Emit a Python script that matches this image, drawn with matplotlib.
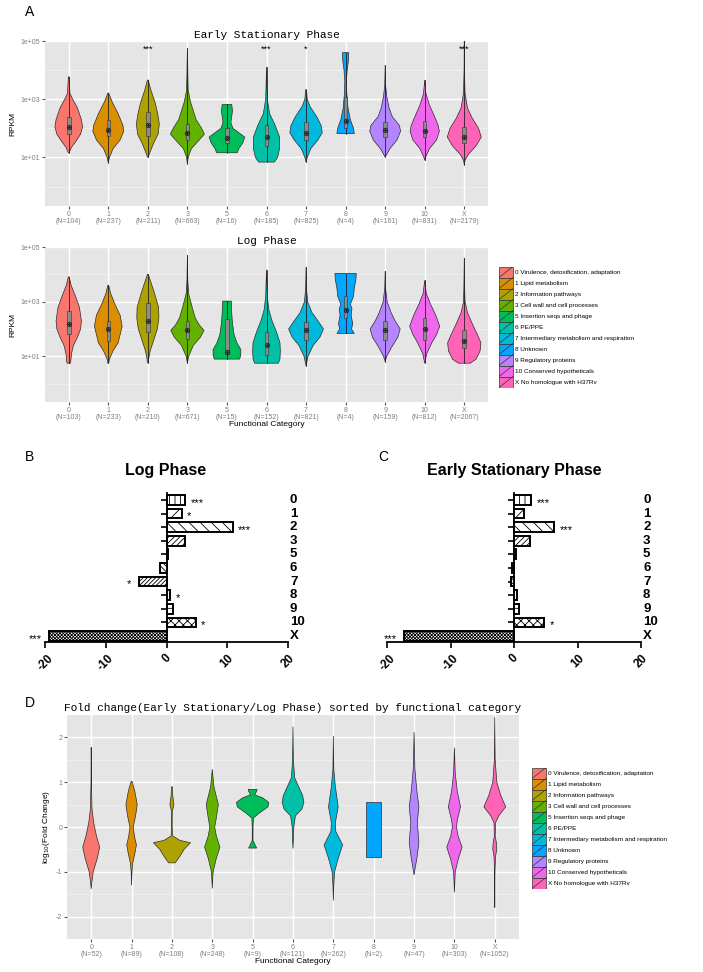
import numpy as np
import matplotlib.pyplot as plt
from matplotlib.patches import Rectangle
from matplotlib.ticker import FixedLocator, NullFormatter
import matplotlib.transforms as mtrans

plt.rcParams['font.family'] = ['Liberation Sans', 'DejaVu Sans']
plt.rcParams['axes.unicode_minus'] = False
plt.rcParams['hatch.linewidth'] = 0.6

W, H = 703, 972

# ---------------- data ----------------
categories = ['0', '1', '2', '3', '5', '6', '7', '8', '9', '10', 'X']
legend_names = ['0 Virulence, detoxification, adaptation', '1 Lipid metabolism',
                '2 Information pathways', '3 Cell wall and cell processes',
                '5 Insertion seqs and phage', '6 PE/PPE',
                '7 Intermediary metabolism and respiration', '8 Unknown',
                '9 Regulatory proteins', '10 Conserved hypotheticals',
                'X No homologue with H37Rv']
colors = ['#F8766D', '#DB8E00', '#AEA200', '#64B200', '#00BD5C', '#00C1A7',
          '#00BADE', '#00A6FF', '#B385FF', '#EF67EB', '#FF63B6']

n_es = [104, 237, 211, 663, 16, 185, 825, 4, 161, 831, 2179]
n_log = [103, 233, 210, 671, 15, 152, 821, 4, 159, 812, 2067]
n_fc = [52, 89, 108, 248, 9, 121, 262, 2, 47, 303, 1052]

es_stars = ['', '', '***', '', '', '***', '*', '', '', '', '***']

# violin outlines: (log10 value, half width)
es_shapes = [
    [(3.77, 0.01), (3.2, 0.03), (3.0, 0.1), (2.7, 0.22), (2.3, 0.32), (2.05, 0.35), (1.8, 0.3), (1.55, 0.18), (1.35, 0.07), (1.16, 0.01)],
    [(3.21, 0.01), (2.9, 0.1), (2.5, 0.25), (2.1, 0.37), (1.9, 0.39), (1.6, 0.3), (1.3, 0.12), (1.0, 0.03), (0.82, 0.0)],
    [(3.66, 0.01), (3.3, 0.08), (2.9, 0.18), (2.5, 0.25), (2.15, 0.29), (1.8, 0.26), (1.5, 0.15), (1.2, 0.06), (1.01, 0.01)],
    [(4.75, 0.0), (4.0, 0.01), (3.3, 0.02), (2.9, 0.08), (2.6, 0.15), (2.3, 0.22), (2.0, 0.36), (1.8, 0.43), (1.6, 0.3), (1.3, 0.1), (1.0, 0.02), (0.78, 0.0)],
    [(2.82, 0.12), (2.6, 0.14), (2.4, 0.12), (2.2, 0.1), (2.0, 0.15), (1.85, 0.3), (1.7, 0.45), (1.5, 0.4), (1.3, 0.3), (1.16, 0.26)],
    [(4.11, 0.0), (3.5, 0.01), (3.0, 0.02), (2.5, 0.08), (2.1, 0.22), (1.7, 0.33), (1.3, 0.33), (1.0, 0.28), (0.84, 0.2)],
    [(3.33, 0.01), (3.0, 0.03), (2.75, 0.1), (2.4, 0.27), (2.1, 0.38), (1.85, 0.41), (1.6, 0.3), (1.3, 0.12), (1.0, 0.03), (0.84, 0.0)],
    [(4.6, 0.08), (4.3, 0.07), (4.0, 0.04), (3.6, 0.02), (3.2, 0.03), (2.7, 0.06), (2.3, 0.12), (2.0, 0.2), (1.82, 0.22)],
    [(4.17, 0.0), (3.5, 0.01), (3.1, 0.04), (2.7, 0.1), (2.4, 0.18), (2.1, 0.36), (1.9, 0.39), (1.6, 0.3), (1.3, 0.12), (1.01, 0.0)],
    [(3.66, 0.0), (3.2, 0.03), (2.8, 0.12), (2.4, 0.25), (2.1, 0.34), (1.9, 0.37), (1.6, 0.3), (1.3, 0.12), (1.0, 0.02), (0.9, 0.0)],
    [(5.0, 0.0), (4.0, 0.005), (3.2, 0.02), (2.7, 0.08), (2.35, 0.2), (2.0, 0.36), (1.7, 0.43), (1.4, 0.3), (1.1, 0.1), (0.9, 0.02), (0.75, 0.0)],
]
es_q1 = [1.8, 1.75, 1.75, 1.6, 1.5, 1.4, 1.6, 2.0, 1.7, 1.7, 1.5]
es_med = [2.05, 1.95, 2.1, 1.85, 1.65, 1.7, 1.85, 2.25, 1.95, 1.9, 1.7]
es_q3 = [2.4, 2.3, 2.55, 2.15, 2.0, 2.1, 2.2, 3.08, 2.2, 2.25, 2.05]

log_shapes = [
    [(3.91, 0.01), (3.6, 0.06), (3.2, 0.17), (2.8, 0.27), (2.3, 0.32), (2.0, 0.3), (1.7, 0.22), (1.4, 0.12), (1.1, 0.07), (0.8, 0.05), (0.75, 0.04)],
    [(3.6, 0.01), (3.3, 0.06), (2.9, 0.17), (2.5, 0.3), (2.1, 0.35), (1.8, 0.3), (1.5, 0.25), (1.2, 0.12), (0.9, 0.03), (0.75, 0.01)],
    [(4.0, 0.01), (3.7, 0.08), (3.3, 0.17), (2.8, 0.27), (2.4, 0.28), (2.0, 0.24), (1.6, 0.15), (1.2, 0.06), (0.9, 0.02), (0.77, 0.01)],
    [(4.7, 0.0), (3.8, 0.01), (3.3, 0.03), (2.8, 0.12), (2.4, 0.2), (2.15, 0.3), (1.95, 0.42), (1.7, 0.33), (1.4, 0.15), (1.0, 0.03), (0.75, 0.0)],
    [(3.02, 0.11), (2.6, 0.12), (2.2, 0.14), (1.8, 0.18), (1.5, 0.25), (1.25, 0.35), (1.05, 0.35), (0.9, 0.32)],
    [(4.17, 0.0), (3.7, 0.01), (3.2, 0.02), (2.7, 0.06), (2.3, 0.14), (1.9, 0.25), (1.5, 0.34), (1.2, 0.35), (0.9, 0.34), (0.75, 0.3)],
    [(4.27, 0.0), (3.5, 0.01), (3.0, 0.04), (2.6, 0.15), (2.3, 0.3), (2.0, 0.44), (1.7, 0.35), (1.4, 0.18), (1.0, 0.05), (0.65, 0.0)],
    [(4.03, 0.27), (3.8, 0.26), (3.5, 0.22), (3.2, 0.2), (2.9, 0.12), (2.75, 0.16), (2.5, 0.14), (2.2, 0.18), (2.0, 0.15), (1.84, 0.22)],
    [(4.11, 0.0), (3.5, 0.01), (3.0, 0.05), (2.6, 0.15), (2.3, 0.25), (2.0, 0.38), (1.7, 0.32), (1.3, 0.15), (1.0, 0.04), (0.81, 0.0)],
    [(3.78, 0.0), (3.3, 0.04), (2.9, 0.15), (2.5, 0.28), (2.1, 0.38), (1.8, 0.3), (1.5, 0.18), (1.1, 0.05), (0.75, 0.0)],
    [(4.6, 0.0), (3.5, 0.01), (3.0, 0.02), (2.6, 0.08), (2.2, 0.2), (1.8, 0.33), (1.5, 0.42), (1.2, 0.4), (0.9, 0.3), (0.75, 0.15)],
]
log_q1 = [1.8, 1.55, 1.9, 1.65, 1.1, 1.05, 1.6, 2.4, 1.6, 1.6, 1.3]
log_med = [2.2, 2.0, 2.3, 1.95, 1.15, 1.4, 1.95, 2.7, 1.95, 2.0, 1.55]
log_q3 = [2.65, 2.3, 2.95, 2.3, 2.35, 1.9, 2.25, 3.2, 2.3, 2.4, 1.95]

fc_shapes = [
    [(1.78, 0.0), (1.0, 0.005), (0.4, 0.02), (0.1, 0.06), (-0.2, 0.13), (-0.45, 0.21), (-0.7, 0.15), (-1.0, 0.05), (-1.2, 0.02), (-1.38, 0.0)],
    [(1.02, 0.01), (0.8, 0.08), (0.5, 0.14), (0.25, 0.1), (0.0, 0.04), (-0.2, 0.07), (-0.4, 0.12), (-0.6, 0.08), (-0.8, 0.03), (-1.0, 0.01), (-1.3, 0.0)],
    [(0.9, 0.01), (0.7, 0.02), (0.5, 0.05), (0.35, 0.01), (0.0, 0.005), (-0.2, 0.02), (-0.3, 0.2), (-0.35, 0.46), (-0.5, 0.3), (-0.65, 0.2), (-0.75, 0.12), (-0.8, 0.08)],
    [(1.29, 0.0), (0.9, 0.04), (0.5, 0.15), (0.2, 0.1), (0.0, 0.06), (-0.2, 0.1), (-0.45, 0.19), (-0.7, 0.1), (-1.0, 0.02), (-1.37, 0.0)],
    [(0.84, 0.11), (0.8, 0.1), (0.72, 0.05), (0.65, 0.25), (0.55, 0.4), (0.45, 0.38), (0.3, 0.15), (0.2, 0.02), (0.0, 0.01), (-0.3, 0.01), (-0.4, 0.06), (-0.47, 0.1)],
    [(2.24, 0.0), (1.5, 0.01), (1.1, 0.04), (0.9, 0.14), (0.7, 0.24), (0.55, 0.27), (0.4, 0.22), (0.25, 0.06), (0.0, 0.02), (-0.3, 0.01), (-0.48, 0.0)],
    [(2.03, 0.0), (1.3, 0.01), (0.9, 0.05), (0.45, 0.12), (0.1, 0.05), (-0.1, 0.06), (-0.4, 0.23), (-0.7, 0.12), (-1.0, 0.03), (-1.3, 0.01), (-1.64, 0.0)],
    [(0.55, 0.18), (-0.66, 0.18)],
    [(2.12, 0.0), (1.3, 0.02), (0.8, 0.07), (0.45, 0.12), (0.1, 0.08), (-0.35, 0.12), (-0.7, 0.07), (-0.9, 0.03), (-1.07, 0.0)],
    [(1.77, 0.0), (1.2, 0.02), (0.8, 0.07), (0.45, 0.15), (0.15, 0.07), (0.0, 0.05), (-0.2, 0.09), (-0.45, 0.19), (-0.7, 0.1), (-1.0, 0.02), (-1.46, 0.0)],
    [(2.45, 0.0), (1.5, 0.01), (1.0, 0.05), (0.7, 0.15), (0.45, 0.27), (0.25, 0.1), (0.1, 0.02), (-0.2, 0.01), (-0.35, 0.04), (-0.5, 0.05), (-0.65, 0.02), (-1.0, 0.005), (-1.8, 0.0)],
]

bar_log = [3.1, 2.5, 10.9, 3.0, 0.3, -1.1, -4.6, 0.6, 1.1, 4.8, -19.4]
bar_es = [2.7, 1.5, 6.3, 2.5, 0.25, -0.35, -0.45, 0.4, 0.8, 4.7, -17.4]
bar_log_stars = ['***', '*', '***', '', '', '', '*', '*', '', '*', '***']
bar_es_stars = ['***', '', '***', '', '', '', '', '', '', '*', '***']
hatches = ['|||', '///', '\\\\\\', '//////', '...', '\\\\\\\\\\\\', '////////',
           '|||', '---', 'xxxx', 'xxxxxxxxxx']


def box(l, t, r, b):
    return [l / W, 1 - b / H, (r - l) / W, (b - t) / H]


fig = plt.figure(figsize=(W / 100, H / 100), dpi=100)
pos = np.arange(1, 12)
MONO = ['Liberation Mono', 'DejaVu Sans Mono']


def gg_axes(ax):
    ax.set_facecolor('#E5E5E5')
    for s in ax.spines.values():
        s.set_visible(False)
    ax.grid(True, which='major', color='white', lw=1.0)
    ax.grid(True, which='minor', axis='y', color='#F2F2F2', lw=0.5)
    ax.set_axisbelow(True)
    ax.tick_params(which='major', length=2, color='#555555', labelsize=5,
                   labelcolor='#7F7F7F', pad=1.5)
    ax.tick_params(which='minor', length=0)
    ax.set_xlim(0.4, 11.6)


def violin(ax, x, shape, color, log):
    shape = sorted(shape)
    y = np.array([p[0] for p in shape])
    w = np.array([p[1] for p in shape])
    if log:
        y = 10 ** y
    xs = np.concatenate([x - w, (x + w)[::-1]])
    ys = np.concatenate([y, y[::-1]])
    ax.fill(xs, ys, facecolor=color, edgecolor='#2b2b2b', lw=0.5, zorder=3)
    return y.min(), y.max()


def rpkm_panel(ax, shapes, q1, med, q3, ns, title):
    gg_axes(ax)
    ax.set_yscale('log')
    ax.set_ylim(10 ** -0.67, 10 ** 5)
    ax.yaxis.set_major_locator(FixedLocator([1e1, 1e3, 1e5]))
    ax.yaxis.set_minor_locator(FixedLocator([1e0, 1e2, 1e4]))
    ax.yaxis.set_minor_formatter(NullFormatter())
    ax.set_yticklabels(['1e+01', '1e+03', '1e+05'])
    for i in range(11):
        lo, hi = violin(ax, pos[i], shapes[i], colors[i], True)
        ax.plot([pos[i], pos[i]], [lo, hi], color='#222222', lw=0.6, zorder=4)
        ax.add_patch(Rectangle((pos[i] - 0.045, 10 ** q1[i]), 0.09,
                               10 ** q3[i] - 10 ** q1[i], facecolor='#8C8C8C',
                               edgecolor='#333333', lw=0.4, zorder=5))
        ax.plot(pos[i], 10 ** med[i], marker='o', ms=3.2, mfc='none',
                mec='#222222', mew=0.6, zorder=6)
        ax.plot(pos[i], 10 ** med[i], marker='.', ms=2, color='#222222', zorder=6)
    ax.set_xticks(pos)
    ax.set_xticklabels([f'{c}\n(N={n})' for c, n in zip(categories, ns)],
                       linespacing=0.95)
    ax.set_ylabel('RPKM', fontsize=6, labelpad=3)
    ax.set_title(title, family=MONO, fontsize=8, pad=2)


def legend(l, t):
    lax = fig.add_axes(box(l, t, l + 200, t + 121))
    lax.set_xlim(0, 200)
    lax.set_ylim(121, 0)
    lax.axis('off')
    for i, name in enumerate(legend_names):
        lax.add_patch(Rectangle((0, 11 * i), 14, 11, facecolor=colors[i],
                                edgecolor='#333333', lw=0.5))
        lax.plot([0, 14], [11 * i + 11, 11 * i], color='#333333', lw=0.5)
        lax.text(16, 11 * i + 5.8, name, fontsize=4.6, va='center', ha='left')


# ---- panel A ----
axA1 = fig.add_axes(box(45, 41, 488, 206))
rpkm_panel(axA1, es_shapes, es_q1, es_med, es_q3, n_es, 'Early Stationary Phase')
for i, s in enumerate(es_stars):
    if s:
        axA1.text(pos[i], 10 ** 4.72, s, ha='center', va='center', fontsize=6.5)

axA2 = fig.add_axes(box(45, 247, 488, 402))
rpkm_panel(axA2, log_shapes, log_q1, log_med, log_q3, n_log, 'Log Phase')
axA2.set_xlabel('Functional Category', fontsize=6, labelpad=0)
legend(499, 266.5)

fig.text(25 / W, 1 - 12 / H, 'A', fontsize=10, va='center')
fig.text(25 / W, 1 - 457 / H, 'B', fontsize=10, va='center')
fig.text(378 / W, 1 - 457 / H, 'C', fontsize=10, va='center')
fig.text(25 / W, 1 - 703 / H, 'D', fontsize=10, va='center')


# ---- panels B, C ----
def bar_panel(ax, vals, stars, title, title_x):
    y = np.arange(11)
    for i in range(11):
        ax.barh(y[i], vals[i], height=0.72, color='white', edgecolor='black',
                hatch=hatches[i], lw=1.4, zorder=3)
        if stars[i]:
            right = vals[i] > 0
            ax.annotate(stars[i], (vals[i], y[i]),
                        xytext=(4 if right else -5, -2), textcoords='offset points',
                        ha='left' if right else 'right', va='center', fontsize=8)
    ax.set_ylim(10.44, -0.51)
    ax.set_xlim(-20, 20)
    ax.spines['left'].set_position(('data', 0))
    ax.spines['top'].set_visible(False)
    ax.spines['right'].set_visible(False)
    ax.spines['left'].set_linewidth(1.3)
    ax.spines['bottom'].set_linewidth(1.3)
    ax.set_yticks(y)
    ax.set_yticklabels([])
    ax.tick_params(axis='y', length=4, width=1.2)
    ax.tick_params(axis='x', length=4, width=1.2)
    ax.set_xticks([-20, -10, 0, 10, 20])
    ax.set_xticklabels(['-20', '-10', '0', '10', '20'], rotation=45,
                       fontsize=8.5, fontweight='bold', ha='center')
    tr = mtrans.blended_transform_factory(ax.transAxes, ax.transData)
    for i, c in enumerate(categories):
        ax.text(1.008, y[i], c, transform=tr, fontsize=9.5, fontweight='bold',
                va='center', ha='left')
    fig.text(title_x / W, 1 - 471 / H, title, fontsize=11.5, fontweight='bold',
             ha='center', va='center')


axB = fig.add_axes(box(45, 493, 288, 642))
bar_panel(axB, bar_log, bar_log_stars, 'Log Phase', 166)
axC = fig.add_axes(box(387, 493, 641, 642))
bar_panel(axC, bar_es, bar_es_stars, 'Early Stationary Phase', 514)

# ---- panel D ----
axD = fig.add_axes(box(67, 715, 519, 939))
gg_axes(axD)
axD.set_ylim(-2.5, 2.5)
axD.yaxis.set_major_locator(FixedLocator([-2, -1, 0, 1, 2]))
axD.yaxis.set_minor_locator(FixedLocator([-1.5, -0.5, 0.5, 1.5]))
axD.set_yticklabels(['-2', '-1', '0', '1', '2'])
for i in range(11):
    violin(axD, pos[i], fc_shapes[i], colors[i], False)
axD.set_xticks(pos)
axD.set_xticklabels([f'{c}\n(N={n})' for c, n in zip(categories, n_fc)],
                    linespacing=0.95)
axD.set_xlabel('Functional Category', fontsize=6, labelpad=0)
axD.set_ylabel(r'log$_{10}$(Fold Change)', fontsize=6, labelpad=3)
axD.set_title('Fold change(Early Stationary/Log Phase) sorted by functional category',
              family=MONO, fontsize=8, pad=3)
legend(532, 767.5)

fig.savefig('out.png', dpi=100)
